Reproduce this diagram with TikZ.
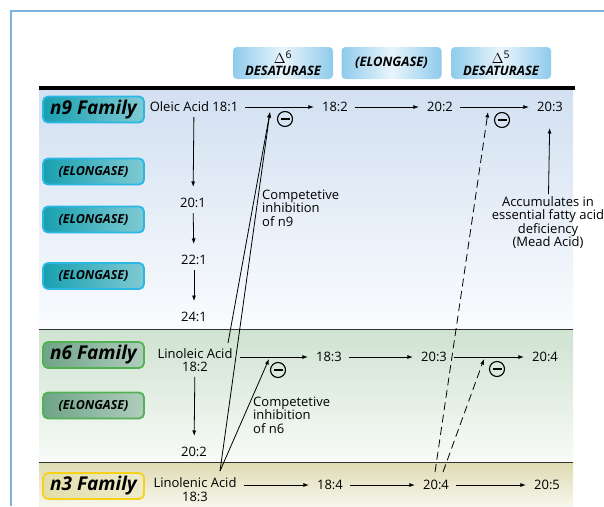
\documentclass[tikz,border=0pt]{standalone}
\usepackage{fontspec}
\setmainfont{Open Sans}
\usetikzlibrary{arrows.meta,calc}
\definecolor{framec}{HTML}{7FB2DD}
\definecolor{hdrblue}{HTML}{8FCBEC}
\definecolor{ninetop}{HTML}{D2E0F1}
\definecolor{ninebot}{HTML}{FAFCFE}
\definecolor{sixtop}{HTML}{CFE2D0}
\definecolor{sixbot}{HTML}{F8FBF8}
\definecolor{threetop}{HTML}{DEDBB3}
\definecolor{threebot}{HTML}{F7F6EC}
\definecolor{cyanb}{HTML}{2BB7E6}
\definecolor{tealf}{HTML}{17A0B0}
\definecolor{greenb}{HTML}{52B152}
\definecolor{greenf}{HTML}{6FA487}
\definecolor{yellowb}{HTML}{F6D31A}
\definecolor{yellowf}{HTML}{E2DEAA}
\definecolor{linec}{HTML}{333333}

\begin{document}
\begin{tikzpicture}[
  x=1pt, y=-1pt,
  lbl/.style={font=\fontsize{13}{13.5}\selectfont, inner sep=2pt, align=center},
  note/.style={font=\fontsize{13}{13.5}\selectfont, inner sep=0pt, align=left, anchor=west},
  arr/.style={-{Latex[length=5.5pt,width=4pt]}, line width=0.8pt, shorten <=5pt, shorten >=6pt},
  varr/.style={arr, shorten <=3pt, shorten >=9pt},
  inh/.style={-{Latex[length=5.5pt,width=4pt]}, line width=0.8pt},
  dinh/.style={inh, dash pattern=on 8pt off 4.5pt},
  minus/.style={circle, draw, line width=1.1pt, minimum size=15pt, inner sep=0pt,
    path picture={\draw[line width=1.1pt] ([xshift=-4.5pt]path picture bounding box.center) -- ([xshift=4.5pt]path picture bounding box.center);}},
  hdr/.style={rounded corners=4pt, left color=hdrblue, right color=hdrblue, middle color=hdrblue!20,
    minimum width=100pt, minimum height=32pt, inner sep=0pt, align=center,
    font=\fontsize{13}{12}\selectfont\bfseries\itshape},
  fam/.style={rounded corners=5pt, line width=1.8pt, minimum width=101pt, minimum height=26pt, inner sep=0pt,
    font=\fontsize{19}{19}\selectfont\bfseries\itshape},
  elong/.style={fam, font=\fontsize{12.5}{12.5}\selectfont\bfseries\itshape},
  ninebox/.style={draw=cyanb, left color=tealf, middle color=tealf!15, right color=tealf!55},
  sixbox/.style={draw=greenb, left color=greenf, middle color=greenf!12, right color=greenf!55},
  threebox/.style={draw=yellowb, left color=yellowf, middle color=yellowf!15, right color=yellowf!60}
]
\useasboundingbox (0,0) rectangle (604,506);

% frame and panels
\draw[framec, line width=2pt] (11,506) -- (11,11) -- (604,11);
\path[top color=ninetop, bottom color=ninebot] (39,90) rectangle (573,329);
\path[top color=sixtop, bottom color=sixbot] (39,329) rectangle (573,462);
\path[top color=threetop, bottom color=threebot] (39,462) rectangle (573,506);
\draw[linec, line width=1pt] (39,329) -- (573,329);
\draw[linec, line width=1pt] (39,462) -- (573,462);
\draw[line width=4pt] (39,88) -- (575,88);

% enzyme headers
\node[hdr] (d6) at (283,63) {{\fontsize{15}{12}\selectfont\mdseries\upshape$\Delta$\textsuperscript{6}}\\DESATURASE};
\node[hdr] (elo) at (391.5,63) {(ELONGASE)};
\node[hdr] (d5) at (501,63) {{\fontsize{15}{12}\selectfont\mdseries\upshape$\Delta$\textsuperscript{5}}\\DESATURASE};

% family boxes
\node[fam, ninebox] (fam9) at (93.5,109.5) {n9 Family};
\node[elong, ninebox] (el9a) at (93.5,171.5) {(ELONGASE)};
\node[elong, ninebox] (el9b) at (93.5,219.5) {(ELONGASE)};
\node[elong, ninebox] (el9c) at (93.5,276) {(ELONGASE)};
\node[fam, sixbox] (fam6) at (93.5,355) {n6 Family};
\node[elong, sixbox] (el6) at (93.5,405.5) {(ELONGASE)};
\node[fam, threebox] (fam3) at (93.5,486) {n3 Family};

% n9 row
\node[lbl] (oleic) at (194,107) {Oleic Acid 18:1};
\node[lbl] (n92) at (335,107) {18:2};
\node[lbl] (n922) at (440,107) {20:2};
\node[lbl] (n93) at (550,107) {20:3};
\node[lbl] (n201) at (193,203) {20:1};
\node[lbl] (n221) at (194,260) {22:1};
\node[lbl] (n241) at (194,317) {24:1};

% n6 row
\node[lbl] (lino) at (195,360) {Linoleic Acid\\18:2};
\node[lbl] (n63) at (329,357) {18:3};
\node[lbl] (n633) at (434,357) {20:3};
\node[lbl] (n64) at (545,357) {20:4};
\node[lbl] (n62) at (194,452) {20:2};

% n3 row
\node[lbl] (linol) at (195,489.5) {Linolenic Acid\\18:3};
\node[lbl] (n34) at (330,485) {18:4};
\node[lbl] (n344) at (436,485) {20:4};
\node[lbl] (n35) at (547,485) {20:5};

% notes
\node[note] (comp9) at (262,208) {Competetive\\inhibition\\of n9};
\node[note] (comp6) at (253,415) {Competetive\\inhibition\\of n6};
\node[lbl, inner sep=0pt] (accum) at (548,222.5) {Accumulates in\\essential fatty acid\\deficiency\\(Mead Acid)};

% inhibition marks
\node[minus] (m9a) at (285,119) {};
\node[minus] (m9b) at (502,120) {};
\node[minus] (m6a) at (278,370) {};
\node[minus] (m6b) at (497,369) {};
\coordinate (i9a) at (270,112);
\coordinate (i9b) at (488,112);
\coordinate (i6a) at (269,359);
\coordinate (i6b) at (484,359);
\coordinate (src6) at (228,343);
\coordinate (src3) at (220,471);
\coordinate (dsa) at (435,472);
\coordinate (dsb) at (443,472);

% pathway arrows
\draw[arr] (oleic) -- (n92);
\draw[arr] (n92) -- (n922);
\draw[arr] (n922) -- (n93);
\draw[varr] (oleic) -- (n201);
\draw[varr] (n201) -- (n221);
\draw[varr] (n221) -- (n241);
\draw[arr] (lino.east |- n63) -- (n63);
\draw[arr] (n63) -- (n633);
\draw[arr] (n633) -- (n64);
\draw[varr] (lino) -- (n62);
\draw[arr] (linol.east |- n34) -- (n34);
\draw[arr] (n34) -- (n344);
\draw[arr] (n344) -- (n35);
\draw[arr, shorten <=2pt, shorten >=14pt] (accum) -- (n93);

% competition
\draw[inh] (src6) -- (i9a);
\draw[inh] (src3) -- (i9a);
\draw[inh] (src3) -- (i6a);
\draw[dinh] (dsa) -- (i9b);
\draw[dinh] (dsb) -- (i6b);
\end{tikzpicture}
\end{document}
